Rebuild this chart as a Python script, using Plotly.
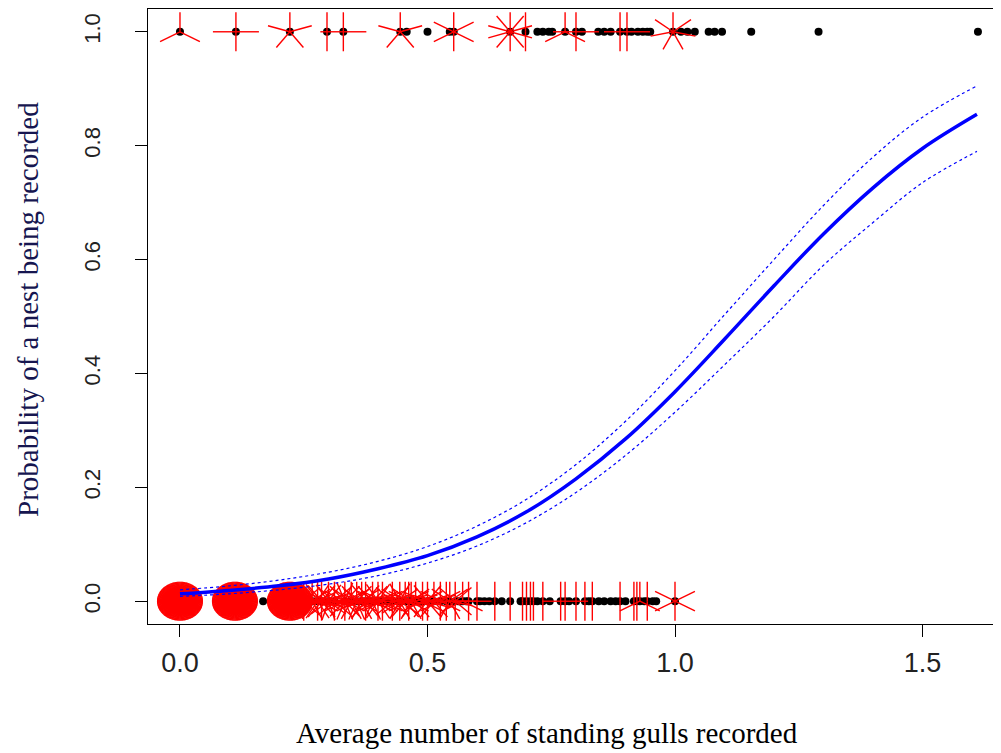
import math
import plotly.graph_objects as go

# ---------------- data ----------------
# Observations with a nest recorded (y = 1): unique x and number of observations there
top_x = [0.000, 0.113, 0.222, 0.297, 0.330, 0.445, 0.458, 0.500, 0.545, 0.553, 0.667, 0.698,
         0.722, 0.733, 0.745, 0.752, 0.778, 0.800, 0.812, 0.845, 0.857, 0.870, 0.889, 0.903,
         0.912, 0.925, 0.935, 0.944, 0.950, 0.996, 1.012, 1.025, 1.040, 1.068, 1.080, 1.095,
         1.154, 1.290, 1.612]
top_n = [3, 4, 5, 2, 4, 5, 1, 1, 1, 6, 10, 2,
         1, 1, 1, 1, 3, 4, 1, 1, 1, 1, 2, 4,
         1, 1, 1, 1, 1, 7, 1, 1, 1, 1, 1, 1,
         1, 1, 1]

# Observations without a nest (y = 0)
bot_x = [0.000, 0.111, 0.168, 0.222, 0.250, 0.267, 0.278, 0.286, 0.300, 0.312, 0.333, 0.346,
         0.357, 0.367, 0.375, 0.389, 0.400, 0.409, 0.418, 0.429, 0.444, 0.455, 0.462, 0.467,
         0.476, 0.480, 0.490, 0.500, 0.513, 0.526, 0.538, 0.545, 0.556, 0.562, 0.571, 0.578,
         0.583, 0.600, 0.606, 0.615, 0.625, 0.636, 0.650, 0.667, 0.688, 0.692, 0.700, 0.708,
         0.714, 0.722, 0.733, 0.747, 0.769, 0.778, 0.786, 0.800, 0.818, 0.826, 0.833, 0.846,
         0.857, 0.870, 0.880, 0.889, 0.900, 0.917, 0.923, 0.929, 0.938, 0.944, 0.955, 0.962,
         1.000]
bot_n = [150, 150, 1, 150, 8, 7, 12, 10, 11, 8, 18, 7,
         9, 7, 10, 9, 12, 6, 1, 8, 14, 5, 6, 7,
         5, 1, 6, 10, 5, 6, 4, 7, 8, 1, 3, 1,
         4, 2, 1, 1, 1, 2, 1, 2, 1, 2, 2, 2,
         2, 1, 2, 1, 2, 4, 1, 2, 2, 1, 2, 1,
         1, 1, 1, 2, 1, 2, 2, 3, 1, 2, 1, 1,
         6]

# Fitted probability and confidence band
fit_x = [0.0, 0.1, 0.2, 0.3, 0.4, 0.5, 0.6, 0.7, 0.8, 0.9, 1.0, 1.1, 1.2, 1.3, 1.4, 1.5, 1.61]
fit_p = [0.013, 0.019, 0.027, 0.039, 0.057, 0.080, 0.113, 0.157, 0.215, 0.285, 0.368, 0.460,
         0.554, 0.645, 0.726, 0.795, 0.855]
fit_lo = [0.0085, 0.013, 0.020, 0.030, 0.045, 0.067, 0.097, 0.138, 0.191, 0.256, 0.332, 0.415,
          0.500, 0.590, 0.665, 0.735, 0.790]
fit_hi = [0.020, 0.027, 0.037, 0.051, 0.070, 0.096, 0.132, 0.179, 0.240, 0.316, 0.405, 0.503,
          0.600, 0.695, 0.780, 0.850, 0.905]

x_ticks = [0.0, 0.5, 1.0, 1.5]
x_tick_text = ["0.0", "0.5", "1.0", "1.5"]
y_ticks = [0.0, 0.2, 0.4, 0.6, 0.8, 1.0]
y_tick_text = ["0.0", "0.2", "0.4", "0.6", "0.8", "1.0"]

# ---------------- layout geometry ----------------
# the page body has an 8px margin; figure placed so the plot lands where the reference has it
OFF = 8
W, H = 1001 - 2 * OFF, 753 - OFF
M_L, M_R, M_T, M_B = 148 - OFF, 0, 9 - OFF, H - (624 - OFF)
X_RANGE = [-0.0646, 1.6424]
Y_RANGE = [-0.04, 1.04]
PETAL_PX_X, PETAL_PX_Y = 23.0, 19.5

pw = W - M_L - M_R
ph = H - M_T - M_B
px_per_x = pw / (X_RANGE[1] - X_RANGE[0])
px_per_y = ph / (Y_RANGE[1] - Y_RANGE[0])
dx = PETAL_PX_X / px_per_x
dy = PETAL_PX_Y / px_per_y

# sunflower petals (as in R's sunflowerplot)
pet_x, pet_y = [], []
for xs, ns, yv in ((top_x, top_n, 1.0), (bot_x, bot_n, 0.0)):
    for xv, n in zip(xs, ns):
        if n < 2:
            continue
        for k in range(1, n + 1):
            a = 2 * math.pi * k / n
            pet_x += [xv, xv + dx * math.sin(a), None]
            pet_y += [yv, yv + dy * math.cos(a), None]

fig = go.Figure()
fig.add_trace(go.Scatter(x=top_x + bot_x, y=[1.0] * len(top_x) + [0.0] * len(bot_x),
                         mode="markers", marker=dict(color="black", size=8),
                         showlegend=False))
fig.add_trace(go.Scatter(x=pet_x, y=pet_y, mode="lines",
                         line=dict(color="#ff0000", width=1.4), hoverinfo="skip",
                         showlegend=False))
fig.add_trace(go.Scatter(x=fit_x, y=fit_lo, mode="lines",
                         line=dict(color="#0000ff", width=1.2, dash="dot", shape="spline"),
                         showlegend=False))
fig.add_trace(go.Scatter(x=fit_x, y=fit_hi, mode="lines",
                         line=dict(color="#0000ff", width=1.2, dash="dot", shape="spline"),
                         showlegend=False))
fig.add_trace(go.Scatter(x=fit_x, y=fit_p, mode="lines",
                         line=dict(color="#0000ff", width=3.5, shape="spline"),
                         showlegend=False))

fig.update_xaxes(range=X_RANGE, tickvals=x_ticks, ticktext=x_tick_text,
                 ticks="outside", ticklen=12, tickwidth=1, tickcolor="black",
                 showline=True, linecolor="black", linewidth=1.2, mirror=True,
                 showgrid=False, zeroline=False,
                 tickfont=dict(family="Liberation Sans, Arial, sans-serif", size=27,
                               color="#222222"),
                 ticklabelstandoff=2)
fig.update_yaxes(range=Y_RANGE, tickvals=y_ticks, ticktext=y_tick_text,
                 ticks="outside", ticklen=12, tickwidth=1, tickcolor="black",
                 showline=True, linecolor="black", linewidth=1.2, mirror=False,
                 showgrid=False, zeroline=False, tickangle=-90,
                 tickfont=dict(family="Liberation Sans, Arial, sans-serif", size=22,
                               color="#222222"),
                 ticklabelstandoff=26)

title_family = "Liberation Serif, Times New Roman, serif"
fig.add_annotation(text="Average number of standing gulls recorded",
                   xref="paper", yref="paper",
                   x=(547 - OFF - M_L) / pw, y=(H - M_B - (733 - OFF)) / ph,
                   xanchor="center", yanchor="middle", showarrow=False,
                   font=dict(family=title_family, size=29, color="black"))
fig.add_annotation(text="Probability of a nest being recorded",
                   xref="paper", yref="paper",
                   x=(28 - OFF - M_L) / pw, y=(H - M_B - (310 - OFF)) / ph,
                   xanchor="center", yanchor="middle", showarrow=False, textangle=-90,
                   font=dict(family=title_family, size=29, color="#161650"))

fig.update_layout(width=W, height=H,
                  margin=dict(l=M_L, r=M_R, t=M_T, b=M_B, pad=0),
                  paper_bgcolor="white", plot_bgcolor="white")

fig.write_html("out.html")
